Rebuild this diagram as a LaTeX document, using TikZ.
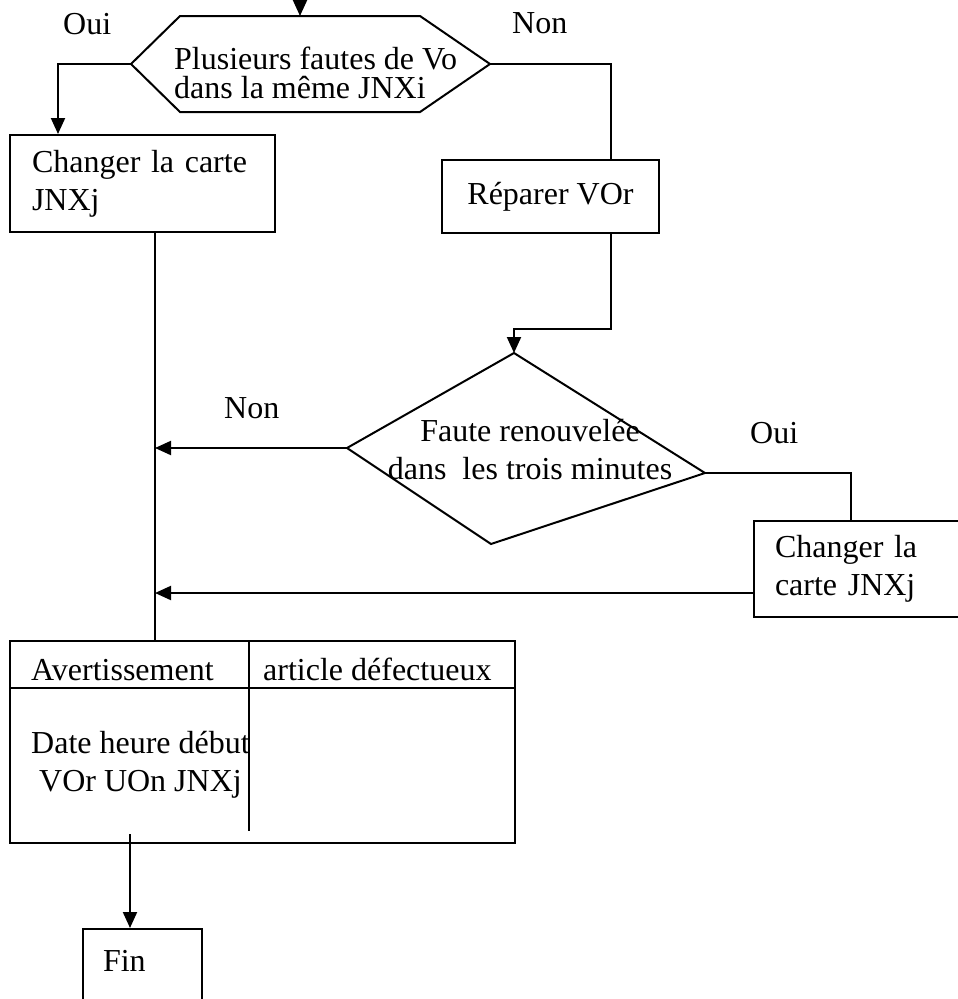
\documentclass[tikz,border=0pt]{standalone}
\usepackage{fontspec}
\setmainfont{Liberation Serif}
\usetikzlibrary{arrows.meta, positioning, calc}

\tikzset{
  flowline/.style={line width=2pt},
  flowarrow/.style={flowline, -{Triangle[length=16pt,width=14pt]}},
  stepbox/.style={draw, line width=2pt, inner sep=0pt},
  txt/.style={inner sep=0pt}
}

\begin{document}
\begin{tikzpicture}[x=1pt, y=-1pt, font=\fontsize{32}{38}\selectfont]
\useasboundingbox (0,0) rectangle (958,999);

% premier test
\coordinate (start) at (300,-20);
\coordinate (hexT) at (300,16);
\coordinate (hexL) at (131,64);
\coordinate (hexR) at (490,64);
\draw[flowline] (180,16) -- (420,16) -- (hexR) -- (420,112) -- (180,112) -- (hexL) -- cycle;
\node[txt, anchor=west, align=left, font=\fontsize{32}{29}\selectfont] (q1) at (174,73) {Plusieurs fautes de Vo\\dans la même JNXi};
\node[txt, anchor=base west] (oui1) at (63,34) {Oui};
\node[txt, anchor=base west] (non1) at (512,33) {Non};

% branches
\node[stepbox, minimum width=265pt, minimum height=97pt, text width=221pt, inner xsep=22pt, align=left] (ch1) at (142.5,183.5) {Changer la carte\\JNXj};
\node[stepbox, minimum width=217pt, minimum height=73pt] (rep) at (550.5,196.5) {Réparer VOr};

% second test
\coordinate (dT) at (514,353);
\coordinate (dR) at (705,473);
\coordinate (dB) at (491,544);
\coordinate (dL) at (347,448);
\draw[flowline] (dT) -- (dR) -- (dB) -- (dL) -- cycle;
\node[txt, align=center] (q2) at (530,450) {Faute renouvelée\\dans~ les trois minutes};
\node[txt, anchor=base west] (non2) at (224,418) {Non};
\node[txt, anchor=base west] (oui2) at (750,443) {Oui};

\node[stepbox, minimum width=221pt, minimum height=96pt, text width=179pt, inner xsep=21pt, align=left] (ch2) at (864.5,569) {Changer la\\carte JNXj};

% tableau
\node[stepbox, minimum width=505pt, minimum height=202pt] (tab) at (262.5,742) {};
\draw[flowline] ([yshift=-48pt]tab.north west) -- ([yshift=-48pt]tab.north east);
\draw[flowline] ([xshift=240pt]tab.north west) -- ++(0,191);
\node[txt, anchor=base west] (warn) at (31,680) {Avertissement};
\node[txt, anchor=base west] (art) at (263,680) {article défectueux};
\node[txt, align=center] (date) at (140.5,765) {Date heure début\\VOr UOn JNXj};

\node[stepbox, anchor=north, text width=79pt, inner xsep=20pt, inner ysep=10pt, text height=32pt, text depth=40pt, align=left] (fin) at (142.5,928) {Fin};

% liaisons
\coordinate (trunk) at ([xshift=12.5pt]ch1.south);
\coordinate (out) at ([xshift=-12.5pt,yshift=10pt]tab.south);
\draw[flowarrow] (start) -- (hexT);
\draw[flowarrow] (hexL) -| ([xshift=49pt]ch1.north west);
\draw[flowline] (hexR) -| ([xshift=60.5pt]rep.north);
\draw[flowarrow] ([xshift=60.5pt]rep.south) -- ++(0,95) -| (dT);
\draw[flowline] (trunk) -- (trunk |- tab.north);
\draw[flowarrow] (dL) -- (dL -| trunk);
\draw[flowline] (dR) -| ([xshift=-13.5pt]ch2.north);
\draw[flowarrow] ([yshift=-24pt]ch2.west) -- ([yshift=-24pt]ch2.west -| trunk);
\draw[flowarrow] ([xshift=-120pt]out) -- ([xshift=-120pt]out |- fin.north);
\end{tikzpicture}
\end{document}
